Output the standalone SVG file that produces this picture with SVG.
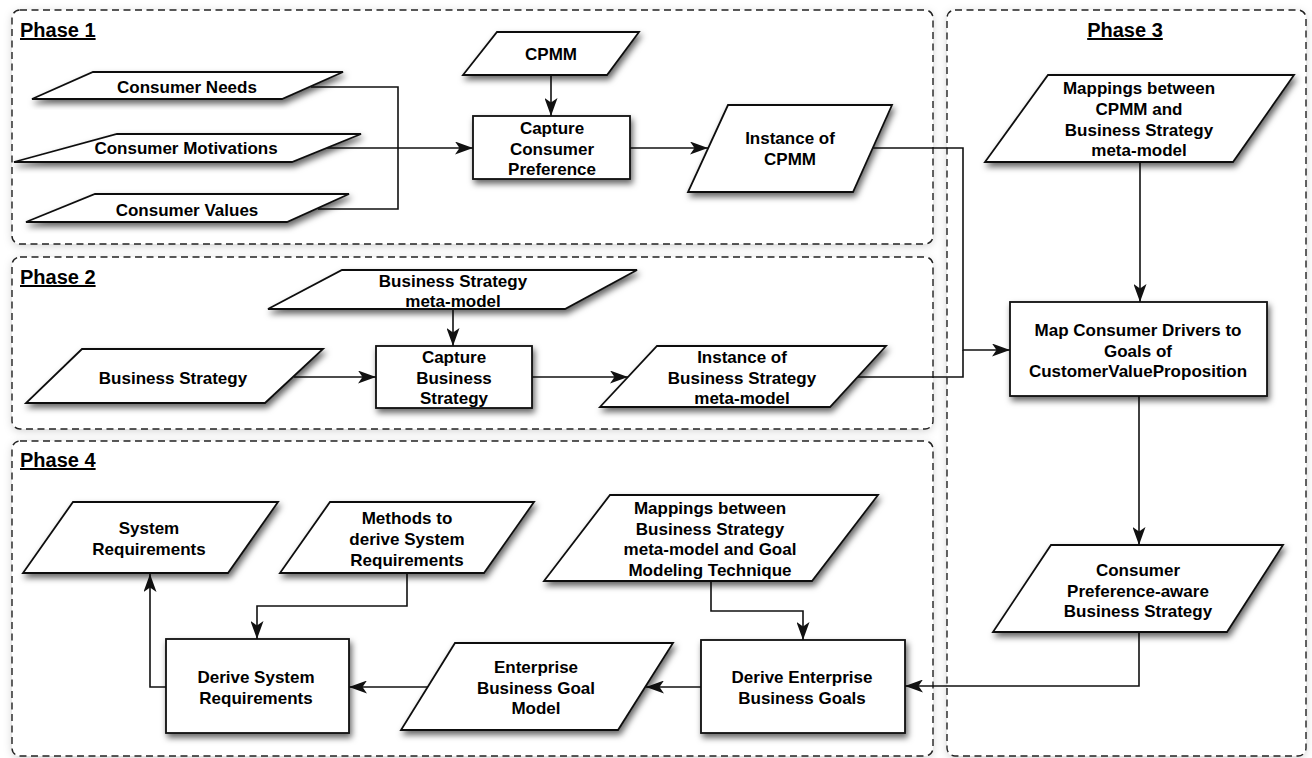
<svg xmlns="http://www.w3.org/2000/svg" width="1312" height="758" viewBox="0 0 1312 758">
  <style>
    .frame-bg { fill: #ffffff; filter: url(#glow); }
    .frame { fill: none; stroke: #222; stroke-width: 1.4; stroke-dasharray: 7 4.5; }
    .shape { fill: #ffffff; stroke: #111; stroke-width: 1.8; filter: url(#shadow); }
    .label { font-family: "Liberation Sans", Arial, sans-serif; font-weight: bold; font-size: 17px; fill: #000; text-anchor: middle; }
    .phase { font-family: "Liberation Sans", Arial, sans-serif; font-weight: bold; font-size: 20px; fill: #000; text-decoration: underline; }
    .conn { fill: none; stroke: #111; stroke-width: 1.6; }
    .arrow { marker-end: url(#head); }
  </style>
  <defs>
    <filter id="shadow" x="-20%" y="-20%" width="140%" height="160%">
      <feDropShadow dx="2" dy="4" stdDeviation="3" flood-color="#000" flood-opacity="0.6"/>
    </filter>
    <filter id="glow" x="-5%" y="-10%" width="110%" height="120%">
      <feDropShadow dx="0" dy="2" stdDeviation="4" flood-color="#000" flood-opacity="0.18"/>
    </filter>
    <marker id="head" markerUnits="userSpaceOnUse" viewBox="0 0 18 13" markerWidth="18" markerHeight="13" refX="18" refY="6.5" orient="auto">
      <path d="M0,0 L18,6.5 L0,13 L4.5,6.5 z" fill="#111"/>
    </marker>
  </defs>

  <rect width="1312" height="758" fill="#ffffff"/>

  <!-- phase frames -->
  <g id="phase1">
    <rect class="frame-bg" x="12" y="10" width="921" height="234" rx="8"/>
    <rect class="frame" x="12" y="10" width="921" height="234" rx="8"/>
    <text class="phase" x="20" y="37">Phase 1</text>
  </g>
  <g id="phase2">
    <rect class="frame-bg" x="12" y="257" width="921" height="172" rx="8"/>
    <rect class="frame" x="12" y="257" width="921" height="172" rx="8"/>
    <text class="phase" x="20" y="284">Phase 2</text>
  </g>
  <g id="phase4">
    <rect class="frame-bg" x="12" y="441" width="921" height="315" rx="8"/>
    <rect class="frame" x="12" y="441" width="921" height="315" rx="8"/>
    <text class="phase" x="20" y="467">Phase 4</text>
  </g>
  <g id="phase3">
    <rect class="frame-bg" x="947" y="10" width="359" height="746" rx="8"/>
    <rect class="frame" x="947" y="10" width="359" height="746" rx="8"/>
    <text class="phase" x="1125" y="37" text-anchor="middle">Phase 3</text>
  </g>

  <!-- connectors -->
  <g id="connectors">
    <path class="conn" d="M311,87 H398 V209 H318"/>
    <path class="conn arrow" d="M327,148 H473"/>
    <path class="conn arrow" d="M551,75 V116"/>
    <path class="conn arrow" d="M630,148 H708"/>
    <path class="conn arrow" d="M873,148 H963 V350 H1010"/>
    <path class="conn" d="M858,377 H963 V350"/>
    <path class="conn arrow" d="M1140,162 V302"/>
    <path class="conn arrow" d="M1139,396 V545"/>
    <path class="conn arrow" d="M1139,632 V686 H905"/>
    <path class="conn arrow" d="M453,309 V346"/>
    <path class="conn arrow" d="M294,377 H376"/>
    <path class="conn arrow" d="M532,377 H628"/>
    <path class="conn arrow" d="M711,581 V611 H803 V640"/>
    <path class="conn arrow" d="M701,687 H646"/>
    <path class="conn arrow" d="M428,687 H349"/>
    <path class="conn arrow" d="M407,573 V606 H257 V639"/>
    <path class="conn arrow" d="M166,687 H150 V574"/>
  </g>

  <!-- Phase 1 nodes -->
  <g id="consumer-needs">
    <polygon class="shape" points="93,72 343,72 282,99 32,99"/>
    <text class="label" x="187" y="93">Consumer Needs</text>
  </g>
  <g id="consumer-motivations">
    <polygon class="shape" points="117,134 361,134 292,162 14,162"/>
    <text class="label" x="186" y="154">Consumer Motivations</text>
  </g>
  <g id="consumer-values">
    <polygon class="shape" points="95,194 349,194 287,222 26,222"/>
    <text class="label" x="187" y="216">Consumer Values</text>
  </g>
  <g id="cpmm">
    <polygon class="shape" points="497,32 639,32 607,75 463,75"/>
    <text class="label" x="551" y="60">CPMM</text>
  </g>
  <g id="capture-consumer-preference">
    <rect class="shape" x="473" y="116" width="157" height="63"/>
    <text class="label" x="552" y="134">Capture<tspan x="552" dy="20.5">Consumer</tspan><tspan x="552" dy="20.5">Preference</tspan></text>
  </g>
  <g id="instance-cpmm">
    <polygon class="shape" points="728,105 892,105 853,192 688,192"/>
    <text class="label" x="790" y="144">Instance of<tspan x="790" dy="21">CPMM</tspan></text>
  </g>

  <!-- Phase 2 nodes -->
  <g id="bs-metamodel">
    <polygon class="shape" points="342,270 637,270 565,309 268,309"/>
    <text class="label" x="453" y="287">Business Strategy<tspan x="453" dy="20">meta-model</tspan></text>
  </g>
  <g id="business-strategy">
    <polygon class="shape" points="82,349 323,349 265,403 26,403"/>
    <text class="label" x="173" y="384">Business Strategy</text>
  </g>
  <g id="capture-business-strategy">
    <rect class="shape" x="376" y="346" width="156" height="62"/>
    <text class="label" x="454" y="363">Capture<tspan x="454" dy="20.5">Business</tspan><tspan x="454" dy="20.5">Strategy</tspan></text>
  </g>
  <g id="instance-bs-metamodel">
    <polygon class="shape" points="657,346 886,346 830,407 600,407"/>
    <text class="label" x="742" y="363">Instance of<tspan x="742" dy="20.5">Business Strategy</tspan><tspan x="742" dy="20.5">meta-model</tspan></text>
  </g>

  <!-- Phase 3 nodes -->
  <g id="mappings-cpmm-bs">
    <polygon class="shape" points="1048,75 1294,75 1233,162 985,162"/>
    <text class="label" x="1139" y="94">Mappings between<tspan x="1139" dy="20.8">CPMM and</tspan><tspan x="1139" dy="20.8">Business Strategy</tspan><tspan x="1139" dy="20.8">meta-model</tspan></text>
  </g>
  <g id="map-consumer-drivers">
    <rect class="shape" x="1010" y="302" width="257" height="94"/>
    <text class="label" x="1138" y="336">Map Consumer Drivers to<tspan x="1138" dy="20.5">Goals of</tspan><tspan x="1138" dy="20.5">CustomerValueProposition</tspan></text>
  </g>
  <g id="preference-aware-strategy">
    <polygon class="shape" points="1051,545 1283,545 1227,632 993,632"/>
    <text class="label" x="1138" y="576">Consumer<tspan x="1138" dy="20.5">Preference-aware</tspan><tspan x="1138" dy="20.5">Business Strategy</tspan></text>
  </g>

  <!-- Phase 4 nodes -->
  <g id="system-requirements">
    <polygon class="shape" points="73,502 278,502 228,573 23,573"/>
    <text class="label" x="149" y="534">System<tspan x="149" dy="21">Requirements</tspan></text>
  </g>
  <g id="methods-derive">
    <polygon class="shape" points="330,502 534,502 484,573 280,573"/>
    <text class="label" x="407" y="524">Methods to<tspan x="407" dy="21">derive System</tspan><tspan x="407" dy="21">Requirements</tspan></text>
  </g>
  <g id="mappings-bs-goal">
    <polygon class="shape" points="610,495 878,495 812,581 544,581"/>
    <text class="label" x="710" y="514">Mappings between<tspan x="710" dy="20.7">Business Strategy</tspan><tspan x="710" dy="20.7">meta-model and Goal</tspan><tspan x="710" dy="20.7">Modeling Technique</tspan></text>
  </g>
  <g id="derive-system-requirements">
    <rect class="shape" x="166" y="639" width="183" height="94"/>
    <text class="label" x="256" y="683">Derive System<tspan x="256" dy="21">Requirements</tspan></text>
  </g>
  <g id="enterprise-goal-model">
    <polygon class="shape" points="455,643 673,643 618,730 401,730"/>
    <text class="label" x="536" y="673">Enterprise<tspan x="536" dy="20.7">Business Goal</tspan><tspan x="536" dy="20.7">Model</tspan></text>
  </g>
  <g id="derive-enterprise-goals">
    <rect class="shape" x="701" y="640" width="204" height="93"/>
    <text class="label" x="802" y="683">Derive Enterprise<tspan x="802" dy="21">Business Goals</tspan></text>
  </g>
</svg>
